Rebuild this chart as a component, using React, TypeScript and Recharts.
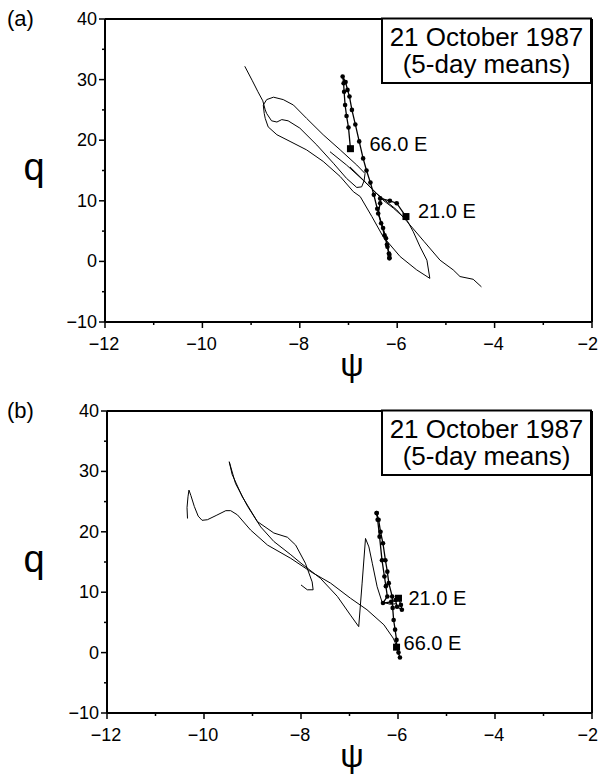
import { LineChart, Line, XAxis, YAxis } from "recharts";

const psiTicks = [-12, -11, -10, -9, -8, -7, -6, -5, -4, -3, -2];
const qTicks = [-10, -5, 0, 5, 10, 15, 20, 25, 30, 35, 40];

// panel (a): thin trajectories
const aThinLoop: [number, number][] = [
  [-9.13, 32.2], [-8.98, 29.9], [-8.86, 28.0], [-8.76, 26.5], [-8.71, 25.0],
  [-8.68, 24.4], [-8.58, 23.2], [-8.47, 23.0], [-8.37, 23.4], [-8.24, 23.2],
  [-8.0, 22.0], [-7.65, 19.2], [-7.31, 16.2], [-7.04, 13.7], [-6.83, 12.2],
  [-6.73, 12.3], [-6.68, 13.3], [-6.66, 14.5], [-6.83, 15.9], [-7.17, 18.4],
  [-7.52, 20.9], [-7.86, 23.6], [-8.13, 25.8], [-8.34, 26.7], [-8.54, 27.1],
  [-8.68, 26.7], [-8.75, 25.8], [-8.73, 24.4], [-8.71, 23.6], [-8.65, 22.2],
  [-8.47, 20.9], [-8.2, 19.8], [-7.86, 18.4], [-7.52, 16.5], [-7.17, 14.0],
  [-6.9, 11.5], [-6.76, 10.7], [-6.52, 7.4], [-6.29, 4.1], [-5.94, 0.8],
  [-5.6, -1.4], [-5.33, -2.8], [-5.39, 0.2], [-5.53, 2.4], [-5.67, 4.9],
  [-5.8, 6.8], [-6.08, 8.8], [-6.29, 10.1], [-6.63, 12.9], [-6.97, 15.6],
];
const aThinTail: [number, number][] = [
  [-7.38, 18.1], [-7.04, 15.9], [-6.7, 13.4], [-6.42, 11.2], [-6.01, 8.5],
  [-5.8, 6.6], [-5.45, 3.3], [-5.12, 0.2], [-4.85, -1.4], [-4.71, -2.5],
  [-4.44, -2.95], [-4.27, -4.2],
];
// panel (a): 5-day mean trajectories
const a66E: [number, number][] = [
  [-6.96, 18.6], [-7.0, 22.1], [-7.04, 24.0], [-7.07, 25.8], [-7.09, 28.0],
  [-7.1, 29.4], [-7.12, 30.5], [-7.06, 29.6], [-7.02, 28.3], [-6.98, 27.2],
  [-6.93, 25.0], [-6.86, 22.6], [-6.78, 19.8], [-6.7, 17.0], [-6.63, 15.0],
  [-6.55, 13.0], [-6.48, 11.0], [-6.41, 8.7], [-6.33, 6.3], [-6.26, 4.3],
  [-6.21, 2.8], [-6.17, 1.3], [-6.16, 0.6],
];
const a21E: [number, number][] = [
  [-5.82, 7.4], [-6.01, 9.6], [-6.15, 10.0], [-6.35, 10.4], [-6.35, 9.6],
  [-6.39, 7.9], [-6.29, 5.5], [-6.23, 3.8], [-6.2, 2.4], [-6.16, 1.1],
  [-6.16, 0.5],
];

// panel (b): thin trajectories
const bThinHook: [number, number][] = [
  [-10.34, 22.2], [-10.35, 24.0], [-10.33, 25.8], [-10.31, 26.9], [-10.27, 26.0],
  [-10.2, 24.2], [-10.12, 22.6], [-10.04, 21.9], [-9.93, 22.0], [-9.75, 22.7],
  [-9.55, 23.5], [-9.45, 23.5], [-9.31, 22.8], [-9.04, 20.3], [-8.69, 17.8],
  [-8.21, 15.6], [-7.8, 13.4], [-7.39, 11.5], [-6.98, 9.0], [-6.64, 7.1],
  [-6.29, 4.6], [-6.1, 2.4], [-6.02, 1.0],
];
const bThinSaw: [number, number][] = [
  [-8.0, 11.2], [-7.87, 10.4], [-7.75, 10.4], [-7.77, 11.7], [-7.91, 14.8],
  [-8.11, 17.8], [-8.28, 19.1], [-8.56, 19.8], [-8.9, 21.7], [-9.21, 25.8],
  [-9.42, 29.5], [-9.48, 31.6], [-9.35, 28.0], [-9.1, 24.2], [-8.83, 20.8],
  [-8.56, 18.4], [-8.21, 16.2], [-8.0, 14.8], [-7.6, 12.3], [-7.25, 9.3],
  [-6.98, 6.2], [-6.81, 4.3], [-6.74, 11.5], [-6.67, 18.9], [-6.6, 17.5],
  [-6.53, 14.8], [-6.43, 10.9], [-6.33, 8.4], [-6.16, 8.0], [-6.02, 8.1],
];
// panel (b): 5-day mean trajectories
const b66E: [number, number][] = [
  [-5.96, -0.8], [-5.99, 0.0], [-6.03, 0.9], [-6.03, 2.1], [-6.06, 3.8],
  [-6.09, 5.4], [-6.11, 7.4], [-6.12, 9.3], [-6.19, 11.5], [-6.22, 13.4],
  [-6.26, 15.3], [-6.31, 18.1], [-6.36, 20.0], [-6.4, 22.0], [-6.44, 23.1],
];
const b21E: [number, number][] = [
  [-5.99, 9.0], [-5.94, 7.9], [-5.92, 7.1], [-6.02, 7.6], [-6.05, 8.7],
  [-6.14, 8.4], [-6.31, 8.2], [-6.22, 9.3], [-6.25, 11.0], [-6.28, 12.6],
  [-6.33, 15.3], [-6.38, 19.2], [-6.42, 22.0], [-6.44, 23.1],
];

const FONT = "'Liberation Sans', Arial, Helvetica, sans-serif";
const W = 600;
const H = 387;
const RIGHT = 8;
const toPts = (arr: [number, number][]) => arr.map(([x, y]) => ({ x, y }));
const fmt = (v: number) => (v < 0 ? "\u2212" + Math.abs(v) : String(v));

// x ticks; the last one also draws the right edge of the frame
const makeXTick = (plotH: number) => (props: any) => {
  const { x, y, payload } = props;
  const v = payload.value;
  const major = v % 2 === 0;
  const last = v === psiTicks[psiTicks.length - 1];
  return (
    <g>
      <line x1={x} x2={x} y1={y} y2={y + (major ? 6 : 3)} stroke="#000" strokeWidth={1.5} />
      {last && <line x1={x} x2={x} y1={y} y2={y - plotH} stroke="#000" strokeWidth={2} />}
      {major && (
        <text
          x={last ? x + 6 : x - 1}
          y={y + 28}
          textAnchor={last ? "end" : "middle"}
          fontSize={18}
          fontFamily={FONT}
          fill="#000"
        >
          {fmt(v)}
        </text>
      )}
    </g>
  );
};

// y ticks; the top one also draws the top edge of the frame
const makeYTick = (plotW: number) => (props: any) => {
  const { x, y, payload } = props;
  const v = payload.value;
  const major = v % 10 === 0;
  const last = v === qTicks[qTicks.length - 1];
  return (
    <g>
      <line x1={x - (major ? 6 : 3)} x2={x} y1={y} y2={y} stroke="#000" strokeWidth={1.5} />
      {last && <line x1={x} x2={x + plotW} y1={y} y2={y} stroke="#000" strokeWidth={2} />}
      {major && (
        <text x={x - 8} y={y + 6} textAnchor="end" fontSize={18} fontFamily={FONT} fill="#000">
          {fmt(v)}
        </text>
      )}
    </g>
  );
};

const markerDot = (label: string, sq: number, dx: number, dy: number) => (p: any) => {
  const { cx, cy, index } = p;
  if (index === sq) {
    return (
      <g key={`m-${index}`}>
        <rect x={cx - 3.5} y={cy - 3.5} width={7} height={7} fill="#000" />
        <text x={cx + dx} y={cy + dy} fontSize={20} fontFamily={FONT} fill="#000">
          {label}
        </text>
      </g>
    );
  }
  return <circle key={`m-${index}`} cx={cx} cy={cy} r={2.3} fill="#000" />;
};

interface PanelProps {
  tag: string;
  thin: [number, number][][];
  m66: [number, number][];
  m21: [number, number][];
  sq66: number;
  lab66: [number, number];
  lab21: [number, number];
  top: number;
  yw: number;
  xh: number;
}

function Panel({ tag, thin, m66, m21, sq66, lab66, lab21, top, yw, xh }: PanelProps) {
  const axisBottom = H - xh;
  const plotRight = W - RIGHT;
  const XTick = makeXTick(axisBottom - top);
  const YTick = makeYTick(plotRight - yw);
  return (
    <div style={{ position: "relative", width: W, height: H }}>
      <LineChart width={W} height={H} margin={{ top, right: RIGHT, bottom: 0, left: 0 }}>
        <XAxis
          dataKey="x"
          type="number"
          domain={[-12, -2]}
          ticks={psiTicks}
          interval={0}
          height={xh}
          tickSize={0}
          tickMargin={0}
          tickLine={false}
          tick={XTick}
          axisLine={{ stroke: "#000", strokeWidth: 2 }}
          allowDataOverflow
        />
        <YAxis
          type="number"
          domain={[-10, 40]}
          ticks={qTicks}
          interval={0}
          width={yw}
          tickSize={0}
          tickMargin={0}
          tickLine={false}
          tick={YTick}
          axisLine={{ stroke: "#000", strokeWidth: 2 }}
          allowDataOverflow
        />
        {thin.map((s, i) => (
          <Line
            key={`t${i}`}
            data={toPts(s)}
            dataKey="y"
            type="linear"
            stroke="#000"
            strokeWidth={1}
            dot={false}
            activeDot={false}
            isAnimationActive={false}
          />
        ))}
        <Line
          data={toPts(m66)}
          dataKey="y"
          type="linear"
          stroke="#000"
          strokeWidth={1.3}
          dot={markerDot("66.0 E", sq66, lab66[0], lab66[1])}
          activeDot={false}
          isAnimationActive={false}
        />
        <Line
          data={toPts(m21)}
          dataKey="y"
          type="linear"
          stroke="#000"
          strokeWidth={1.3}
          dot={markerDot("21.0 E", 0, lab21[0], lab21[1])}
          activeDot={false}
          isAnimationActive={false}
        />
      </LineChart>
      <svg
        width={W}
        height={H}
        style={{ position: "absolute", left: 0, top: 0, pointerEvents: "none", overflow: "visible" }}
        fontFamily={FONT}
      >
        <text x={7} y={top + 7} fontSize={22} fill="#000">{tag}</text>
        <text x={34} y={top + 161} fontSize={38} textAnchor="middle" fill="#000">q</text>
        <text x={352} y={axisBottom + 54} fontSize={33} textAnchor="middle" fill="#000">ψ</text>
        <rect x={382} y={top - 0.5} width={209} height={64.5} fill="#fff" stroke="#000" strokeWidth={2} />
        <text x={486.5} y={top + 27} fontSize={26} textAnchor="middle" fill="#000">21 October 1987</text>
        <text x={486.5} y={top + 54} fontSize={26} textAnchor="middle" fill="#000">(5-day means)</text>
      </svg>
    </div>
  );
}

export default function App() {
  return (
    <div style={{ position: "absolute", left: 0, top: 0, width: W, height: 774, background: "#fff" }}>
      <Panel
        tag="(a)"
        thin={[aThinLoop, aThinTail]}
        m66={a66E}
        m21={a21E}
        sq66={0}
        lab66={[19, 2]}
        lab21={[12, 1]}
        top={19}
        yw={105}
        xh={65}
      />
      <Panel
        tag="(b)"
        thin={[bThinHook, bThinSaw]}
        m66={b66E}
        m21={b21E}
        sq66={2}
        lab66={[7, 3]}
        lab21={[10, 7]}
        top={24}
        yw={107}
        xh={61}
      />
    </div>
  );
}
